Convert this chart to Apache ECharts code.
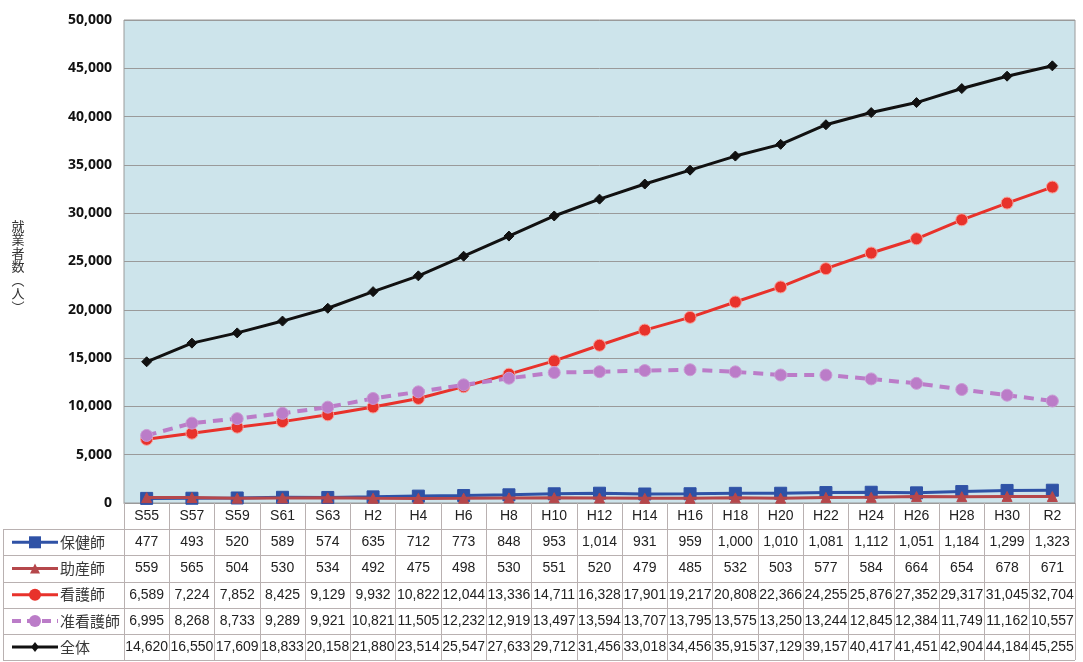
<!DOCTYPE html>
<html>
<head>
<meta charset="utf-8">
<script src="https://cdn.jsdelivr.net/npm/echarts@6/dist/echarts.min.js"></script>
<style>
html,body{margin:0;padding:0;background:#fff;}
#chart{width:1083px;height:662px;}
</style>
</head>
<body>
<div id="chart"></div>
<script>
const xCategories = ['S55','S57','S59','S61','S63','H2','H4','H6','H8','H10','H12','H14','H16','H18','H20','H22','H24','H26','H28','H30','R2'];
const hokenshi   = [477,493,520,589,574,635,712,773,848,953,1014,931,959,1000,1010,1081,1112,1051,1184,1299,1323];
const josanshi   = [559,565,504,530,534,492,475,498,530,551,520,479,485,532,503,577,584,664,654,678,671];
const kangoshi   = [6589,7224,7852,8425,9129,9932,10822,12044,13336,14711,16328,17901,19217,20808,22366,24255,25876,27352,29317,31045,32704];
const junkangoshi= [6995,8268,8733,9289,9921,10821,11505,12232,12919,13497,13594,13707,13795,13575,13250,13244,12845,12384,11749,11162,10557];
const zentai     = [14620,16550,17609,18833,20158,21880,23514,25547,27633,29712,31456,33018,34456,35915,37129,39157,40417,41451,42904,44184,45255];
const seriesNames = ['保健師','助産師','看護師','准看護師','全体'];
const yTicks = [0,5000,10000,15000,20000,25000,30000,35000,40000,45000,50000];
const yAxisName = '就業者数︵人︶';

const values = [hokenshi, josanshi, kangoshi, junkangoshi, zentai];
const colors = ['#2f52a6','#b5474b','#e8322b','#bb7cc8','#111111'];
const symbols = ['rect','triangle','circle','circle','diamond'];
const symbolSizes = [12,10,12,12,10];
const lineWidths = [3,3,3,4,3];
const lineTypes = ['solid','solid','solid','dashed','solid'];
const borderColors = ['#2f52a6','#b5474b','#f7a09a','#c99ad4','#111111'];

const fmt = v => v.toLocaleString('en-US');

const L = {left:124, right:1075, top:20, bottom:503, rowH:26.2, tableLeft:3};
const chart = echarts.init(document.getElementById('chart'));

const graphics = [];
const lineColor = '#b9b1b1';
for (let i = 0; i <= seriesNames.length; i++) {
  const y = Math.round(L.bottom + L.rowH * (i + 1)) + 0.5;
  graphics.push({type:'line', silent:true, shape:{x1:L.tableLeft, y1:y, x2:L.right, y2:y}, style:{stroke:lineColor, lineWidth:1}});
}
graphics.push({type:'line', silent:true, shape:{x1:L.tableLeft+0.5, y1:L.bottom + L.rowH, x2:L.tableLeft+0.5, y2:L.bottom + L.rowH*6}, style:{stroke:lineColor, lineWidth:1}});
seriesNames.forEach((name, i) => {
  const cy = L.bottom + L.rowH * (i + 1.5);
  graphics.push({type:'line', silent:true, shape:{x1:12, y1:cy, x2:58, y2:cy},
    style:{stroke:colors[i], lineWidth:lineWidths[i], lineDash: lineTypes[i]==='dashed' ? [9,6] : null}});
  const cx = 35;
  const s = symbolSizes[i];
  if (symbols[i] === 'rect') {
    graphics.push({type:'rect', silent:true, shape:{x:cx-s/2, y:cy-s/2, width:s, height:s}, style:{fill:colors[i]}});
  } else if (symbols[i] === 'triangle') {
    graphics.push({type:'polygon', silent:true, shape:{points:[[cx,cy-s/2],[cx+s/2,cy+s/2],[cx-s/2,cy+s/2]]}, style:{fill:colors[i]}});
  } else if (symbols[i] === 'circle') {
    graphics.push({type:'circle', silent:true, shape:{cx:cx, cy:cy, r:s/2}, style:{fill:colors[i]}});
  } else if (symbols[i] === 'diamond') {
    graphics.push({type:'polygon', silent:true, shape:{points:[[cx,cy-s/2],[cx+s/2.6,cy],[cx,cy+s/2],[cx-s/2.6,cy]]}, style:{fill:colors[i]}});
  }
  graphics.push({type:'text', silent:true, style:{x:60, y:cy, text:name, fill:'#3a3a3a', fontSize:15, fontFamily:'"Noto Sans CJK JP"', verticalAlign:'middle', textVerticalAlign:'middle'}});
});
// vertical y axis name
Array.from(yAxisName).forEach((ch, i) => {
  graphics.push({type:'text', silent:true, style:{x:18, y:226 + i*13.5, text:ch, fill:'#333', fontSize:13, fontFamily:'"Noto Sans CJK JP"', align:'center', verticalAlign:'middle', textAlign:'center', textVerticalAlign:'middle'}});
});

const option = {
  animation:false,
  backgroundColor:'#fff',
  grid:{left:L.left, right:1083-L.right, top:L.top, bottom:662-L.bottom, show:true, backgroundColor:'#cde4eb', borderColor:'#9a9a9a', borderWidth:1},
  xAxis:{
    type:'category', data:xCategories, boundaryGap:true,
    axisLine:{show:true, lineStyle:{color:'#9a9a9a', width:1}},
    axisTick:{show:true, length:Math.round(L.rowH*6), lineStyle:{color:lineColor, width:1}, alignWithLabel:false},
    axisLabel:{
      interval:0, margin:0, fontSize:14, color:'#222', fontFamily:'"Liberation Sans", Arial, sans-serif',
      lineHeight:L.rowH,
      formatter:(val, idx) => [val].concat(values.map(arr => fmt(arr[idx]))).join('\n')
    },
    splitLine:{show:false}
  },
  yAxis:{
    type:'value', min:yTicks[0], max:yTicks[yTicks.length-1], interval:yTicks[1]-yTicks[0],
    axisLine:{show:false}, axisTick:{show:false},
    axisLabel:{fontSize:14, fontWeight:'bold', color:'#111', margin:12, fontFamily:'"Open Sans", "Liberation Sans", sans-serif', formatter:v=>fmt(v)},
    splitLine:{show:true, lineStyle:{color:'#9a9a9a', width:1}}
  },
  series: seriesNames.map((name, i) => ({
    name:name, type:'line', data:values[i],
    symbol:symbols[i], symbolSize:symbolSizes[i],
    lineStyle:{color:colors[i], width:lineWidths[i], type: lineTypes[i]==='dashed' ? [10,7] : 'solid'},
    itemStyle:{color:colors[i], borderColor:borderColors[i], borderWidth:1},
    z: 2 + i
  })),
  graphic: graphics
};
chart.setOption(option);
</script>
</body>
</html>
